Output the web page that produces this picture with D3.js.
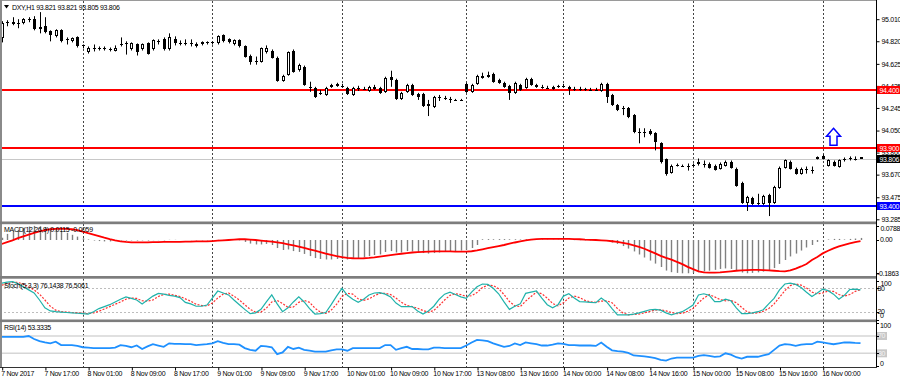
<!DOCTYPE html>
<html><head><meta charset="utf-8">
<script src="https://cdn.jsdelivr.net/npm/d3@7"></script>
<style>
body{margin:0;background:#fff}
svg{display:block}
text{font-family:"Liberation Sans",Arial,sans-serif;font-size:7px;letter-spacing:-0.3px;fill:#000}
</style>
</head><body><svg id="c" width="900" height="381"></svg>
<script>
const openP=[94.845,94.975,94.984,94.966,94.975,95.001,95.010,94.923,94.949,94.906,94.862,94.914,94.827,94.819,94.853,94.784,94.723,94.766,94.757,94.758,94.749,94.740,94.784,94.792,94.749,94.792,94.749,94.801,94.749,94.819,94.836,94.749,94.836,94.801,94.802,94.801,94.792,94.792,94.810,94.810,94.801,94.871,94.836,94.792,94.827,94.775,94.697,94.645,94.645,94.723,94.740,94.679,94.479,94.531,94.732,94.575,94.601,94.427,94.418,94.375,94.357,94.427,94.453,94.436,94.418,94.357,94.418,94.410,94.392,94.427,94.418,94.384,94.514,94.488,94.323,94.384,94.444,94.366,94.366,94.262,94.253,94.340,94.331,94.323,94.314,94.314,94.453,94.384,94.453,94.523,94.514,94.540,94.488,94.462,94.436,94.375,94.444,94.418,94.497,94.444,94.427,94.418,94.410,94.427,94.436,94.427,94.410,94.410,94.410,94.401,94.401,94.392,94.453,94.357,94.270,94.244,94.244,94.183,94.036,94.036,94.044,94.027,93.940,93.801,93.688,93.748,93.748,93.740,93.748,93.775,93.766,93.766,93.748,93.722,93.748,93.783,93.722,93.601,93.427,93.470,93.427,93.418,93.496,93.427,93.557,93.731,93.783,93.722,93.679,93.714,93.714,93.809,93.835,93.748,93.783,93.740,93.792,93.809,93.809,93.821];
const highP=[94.993,95.001,95.027,95.010,95.019,95.027,95.036,95.071,95.027,94.914,94.923,94.923,94.853,94.853,94.862,94.792,94.775,94.792,94.775,94.775,94.766,94.784,94.853,94.819,94.810,94.801,94.801,94.810,94.836,94.836,94.853,94.888,94.862,94.827,94.836,94.836,94.810,94.819,94.819,94.819,94.871,94.879,94.845,94.836,94.836,94.784,94.705,94.688,94.766,94.784,94.749,94.688,94.531,94.732,94.749,94.627,94.610,94.471,94.427,94.401,94.427,94.453,94.462,94.453,94.427,94.427,94.436,94.427,94.436,94.444,94.427,94.514,94.566,94.497,94.384,94.453,94.453,94.375,94.375,94.314,94.349,94.357,94.349,94.340,94.323,94.323,94.462,94.453,94.531,94.549,94.558,94.549,94.497,94.471,94.444,94.471,94.453,94.505,94.505,94.453,94.444,94.436,94.436,94.444,94.453,94.436,94.427,94.427,94.418,94.418,94.418,94.462,94.462,94.366,94.279,94.262,94.253,94.192,94.070,94.070,94.062,94.036,93.949,93.809,93.757,93.766,93.757,93.766,93.766,93.809,93.792,93.775,93.757,93.775,93.792,93.792,93.731,93.609,93.487,93.479,93.505,93.496,93.505,93.574,93.740,93.801,93.792,93.731,93.731,93.740,93.740,93.827,93.844,93.801,93.792,93.801,93.818,93.827,93.827,93.821];
const lowP=[94.810,94.949,94.958,94.932,94.966,94.984,94.914,94.888,94.888,94.819,94.853,94.810,94.792,94.810,94.766,94.758,94.714,94.732,94.740,94.740,94.732,94.732,94.775,94.705,94.740,94.697,94.740,94.705,94.740,94.792,94.740,94.740,94.784,94.784,94.784,94.775,94.766,94.784,94.792,94.792,94.792,94.810,94.801,94.784,94.766,94.679,94.618,94.618,94.636,94.714,94.671,94.471,94.471,94.523,94.549,94.558,94.436,94.384,94.331,94.357,94.349,94.418,94.427,94.418,94.357,94.349,94.392,94.401,94.384,94.401,94.366,94.375,94.427,94.314,94.314,94.375,94.349,94.314,94.253,94.175,94.244,94.305,94.314,94.288,94.305,94.305,94.375,94.375,94.444,94.497,94.505,94.462,94.453,94.418,94.314,94.366,94.392,94.410,94.436,94.418,94.410,94.410,94.401,94.418,94.418,94.357,94.392,94.392,94.392,94.392,94.392,94.384,94.288,94.262,94.218,94.183,94.157,94.027,93.940,93.992,94.009,93.879,93.766,93.661,93.679,93.740,93.740,93.705,93.731,93.748,93.731,93.722,93.705,93.714,93.740,93.722,93.566,93.418,93.357,93.409,93.409,93.409,93.313,93.418,93.548,93.722,93.714,93.670,93.670,93.679,93.679,93.801,93.801,93.740,93.740,93.731,93.783,93.792,93.792,93.805];
const closeP=[94.975,94.984,94.966,94.975,95.010,95.010,94.923,94.940,94.897,94.871,94.914,94.819,94.836,94.845,94.775,94.775,94.766,94.749,94.758,94.749,94.750,94.766,94.792,94.801,94.801,94.723,94.792,94.714,94.827,94.810,94.749,94.853,94.801,94.802,94.801,94.800,94.775,94.810,94.801,94.811,94.862,94.819,94.810,94.827,94.775,94.688,94.645,94.646,94.758,94.766,94.679,94.479,94.523,94.723,94.558,94.618,94.444,94.418,94.340,94.376,94.418,94.444,94.436,94.437,94.366,94.418,94.419,94.409,94.427,94.410,94.375,94.505,94.488,94.323,94.375,94.444,94.357,94.340,94.262,94.279,94.340,94.341,94.330,94.322,94.315,94.313,94.384,94.444,94.523,94.505,94.531,94.471,94.462,94.427,94.375,94.462,94.401,94.497,94.444,94.427,94.426,94.417,94.427,94.436,94.427,94.410,94.409,94.411,94.409,94.400,94.402,94.453,94.340,94.270,94.227,94.236,94.166,94.036,94.027,94.035,94.018,93.949,93.775,93.679,93.748,93.757,93.747,93.741,93.749,93.766,93.765,93.731,93.714,93.766,93.783,93.731,93.574,93.427,93.479,93.418,93.418,93.487,93.427,93.566,93.731,93.792,93.722,93.679,93.722,93.715,93.713,93.818,93.809,93.792,93.748,93.792,93.809,93.810,93.808,93.806];
const macdMain=[0.013,0.034,0.048,0.058,0.068,0.075,0.0788,0.077,0.072,0.068,0.060,0.050,0.040,0.029,0.019,0.010,0.003,-0.003,-0.006,-0.008,-0.008,-0.006,-0.003,-0.003,-0.002,-0.003,-0.002,-0.003,-0.001,-0.001,-0.002,0.001,0.001,0.000,0.000,-0.001,-0.002,-0.002,-0.002,-0.002,0.001,0.001,0.000,0.000,-0.002,-0.011,-0.020,-0.025,-0.025,-0.022,-0.028,-0.045,-0.056,-0.053,-0.062,-0.067,-0.078,-0.090,-0.101,-0.106,-0.109,-0.109,-0.106,-0.106,-0.109,-0.106,-0.101,-0.095,-0.090,-0.084,-0.081,-0.067,-0.062,-0.070,-0.070,-0.062,-0.064,-0.067,-0.073,-0.076,-0.073,-0.070,-0.067,-0.064,-0.062,-0.059,-0.055,-0.045,-0.028,0.004,0.005,0.004,0.005,0.005,0.004,0.004,0.003,0.004,0.005,0.004,0.003,0.002,0.002,0.002,0.001,0.000,-0.001,-0.001,-0.002,-0.002,-0.003,-0.003,-0.006,-0.014,-0.022,-0.034,-0.048,-0.064,-0.081,-0.098,-0.115,-0.132,-0.151,-0.171,-0.180,-0.184,-0.1863,-0.186,-0.183,-0.180,-0.176,-0.172,-0.167,-0.162,-0.159,-0.162,-0.172,-0.182,-0.186,-0.184,-0.181,-0.177,-0.170,-0.157,-0.134,-0.112,-0.092,-0.076,-0.059,-0.042,-0.028,-0.011,-0.003,0.003,0.006,0.006,0.003,0.006,0.008,0.0115];
const macdSignal=[-0.022,-0.012,-0.002,0.010,0.020,0.030,0.040,0.048,0.055,0.060,0.062,0.063,0.062,0.060,0.055,0.047,0.038,0.030,0.022,0.013,0.005,-0.002,-0.008,-0.011,-0.013,-0.013,-0.013,-0.013,-0.012,-0.012,-0.011,-0.011,-0.010,-0.010,-0.009,-0.009,-0.008,-0.008,-0.008,-0.006,-0.004,-0.002,0.000,0.002,0.004,0.004,0.002,0.000,-0.003,-0.006,-0.009,-0.013,-0.018,-0.024,-0.030,-0.037,-0.044,-0.052,-0.060,-0.068,-0.076,-0.083,-0.090,-0.096,-0.100,-0.102,-0.103,-0.102,-0.100,-0.097,-0.093,-0.089,-0.085,-0.081,-0.077,-0.073,-0.070,-0.068,-0.066,-0.065,-0.064,-0.064,-0.064,-0.064,-0.065,-0.065,-0.065,-0.063,-0.058,-0.052,-0.046,-0.040,-0.034,-0.028,-0.021,-0.014,-0.008,-0.002,0.002,0.005,0.006,0.006,0.006,0.006,0.006,0.006,0.005,0.004,0.002,0.001,0.000,-0.002,-0.004,-0.007,-0.011,-0.016,-0.022,-0.030,-0.039,-0.049,-0.062,-0.075,-0.089,-0.100,-0.110,-0.122,-0.135,-0.150,-0.163,-0.175,-0.181,-0.182,-0.182,-0.181,-0.178,-0.175,-0.172,-0.170,-0.168,-0.167,-0.167,-0.168,-0.170,-0.172,-0.174,-0.175,-0.170,-0.160,-0.148,-0.134,-0.112,-0.095,-0.075,-0.060,-0.047,-0.036,-0.027,-0.019,-0.012,-0.0059];
const stochMain=[93,96,97,92,84,76,68,50,30,22,20,19,18,17,16,15,14,20,28,33,38,45,52,58,54,50,40,50,60,67,65,62,60,56,44,40,34,34,37,55,73,68,63,50,38,26,15,17,26,45,63,40,20,30,45,58,45,28,14,15,18,38,60,80,62,52,44,52,63,68,69,65,58,42,33,33,33,22,14,22,34,52,65,70,64,58,54,70,84,91,90,80,66,45,26,34,40,67,70,73,55,38,30,38,60,66,55,46,45,44,43,55,45,28,12,12,12,14,17,21,25,26,24,17,12,16,20,28,37,63,66,62,46,46,52,48,30,15,15,17,20,25,40,54,76,91,93,90,82,70,59,68,78,74,65,52,62,77,78,76.1438];
const stochSignal=[88,92,95,95,91,84,76,65,50,34,24,20,19,18,17,16,15,17,21,27,33,39,45,52,55,54,48,47,50,59,64,65,62,59,53,47,39,36,35,42,55,65,68,60,50,38,26,19,19,29,45,49,41,31,32,44,49,44,29,19,16,24,39,59,67,65,53,49,53,61,67,67,64,55,44,36,33,29,23,19,23,36,50,62,66,64,59,61,69,82,88,87,79,64,46,35,33,47,59,70,66,55,41,35,43,55,60,56,49,45,44,47,48,43,28,17,12,13,14,17,21,24,25,22,18,15,16,21,28,43,55,64,58,51,48,49,43,31,20,16,17,21,28,40,57,74,87,91,88,81,70,66,68,73,72,64,60,64,72,76.5061];
const rsiVals=[68,68,68,68,68,70,63,58,55,53,57,49,49,49,47,44,43,42,42,42,42,43,49,47,44,48,40,46,51,48,45,53,52,52,51,51,49,50,51,53,58,54,51,51,50,42,38,36,47,46,44,28,32,45,40,43,38,36,34,34,34,37,39,39,36,42,42,42,42,42,42,49,49,38,42,45,40,40,39,39,43,43,42,42,42,42,48,55,61,60,58,53,49,45,47,53,49,55,53,51,48,48,50,53,52,49,49,48,48,48,47,55,45,37,35,34,31,25,24,23,21,19,15,13,18,20,20,20,20,24,26,24,22,23,30,27,21,18,22,22,22,25,28,38,48,51,50,47,50,51,51,57,55,53,51,53,55,55,54,53.3335];
const timeTickIdx=[0,8,16,24,32,40,48,56,64,72,80,88,96,104,112,120,128,136,144,152];
const timeLabels=["7 Nov 2017","7 Nov 17:00","8 Nov 01:00","8 Nov 09:00","8 Nov 17:00","9 Nov 01:00","9 Nov 09:00","9 Nov 17:00","10 Nov 01:00","10 Nov 09:00","10 Nov 17:00","13 Nov 08:00","13 Nov 16:00","14 Nov 00:00","14 Nov 08:00","14 Nov 16:00","15 Nov 00:00","15 Nov 08:00","15 Nov 16:00","16 Nov 00:00"];
const dayGridIdx=[15,39,63,86,104,128,152];
const priceTicks=[95.010,94.820,94.625,94.435,94.245,94.050,93.860,93.670,93.475,93.285];
const levelPrices=[94.400,93.900,93.400];
const levelColors=["#ff0000","#ff0000","#0000ff"];
const bidPrice=93.806;
const arrowBar=154, arrowPrice=94.000;
const macdTicks=[0.0788,0.00,-0.1863];
const stochTicks=[100,80,20,0];
const rsiTicks=[100,70,30,0];

const svg=d3.select("#c");
const W=876;
const x=d3.scaleLinear().domain([0,152]).range([1.7,822.7]);
const yMain=d3.scaleLinear().domain([93.285,95.010]).range([219.3,19.2]);
const yMacd=d3.scaleLinear().domain([-0.1863,0.0788]).range([273.3,225.9]);
const yStoch=d3.scaleLinear().domain([0,100]).range([319.5,280.5]);
const yRsi=d3.scaleLinear().domain([0,100]).range([366.3,323]);
const idx=d3.range(openP.length);
const px=i=>Math.round(x(i));

function clip(id,y0,y1){svg.append("clipPath").attr("id",id).append("rect").attr("x",2).attr("y",y0).attr("width",W-2).attr("height",y1-y0);}
clip("cm",1,221.5);clip("cd",224,276);clip("cs",278.7,319.5);clip("cr",322,367);

// day grid lines
const panels=[[1,221.5],[224,276],[278.7,319.5],[322,367]];
panels.forEach(p=>{
  svg.append("g").selectAll("line").data(dayGridIdx).join("line")
   .attr("x1",d=>px(d)+0.5).attr("x2",d=>px(d)+0.5).attr("y1",p[0]).attr("y2",p[1])
   .attr("stroke","#444").attr("stroke-dasharray","2,2").attr("stroke-width",1);
});

// main panel
const gm=svg.append("g").attr("clip-path","url(#cm)");
gm.append("line").attr("x1",0).attr("x2",W).attr("y1",Math.round(yMain(bidPrice))+0.5).attr("y2",Math.round(yMain(bidPrice))+0.5).attr("stroke","#c8c8c8");
levelPrices.forEach((p,k)=>{
  const yy=Math.round(yMain(p));
  gm.append("line").attr("x1",0).attr("x2",W).attr("y1",yy).attr("y2",yy).attr("stroke",levelColors[k]).attr("stroke-width",2);
});
gm.append("g").selectAll("line").data(idx).join("line")
  .attr("x1",i=>px(i)+0.5).attr("x2",i=>px(i)+0.5)
  .attr("y1",i=>yMain(highP[i])).attr("y2",i=>yMain(lowP[i]))
  .attr("stroke","#000").attr("stroke-width",1);
gm.append("g").selectAll("rect").data(idx).join("rect")
  .each(function(i){
    const o=yMain(openP[i]),c=yMain(closeP[i]);
    const top=Math.round(Math.min(o,c)),bot=Math.round(Math.max(o,c));
    const bull=closeP[i]>=openP[i];
    const s=d3.select(this);
    if(bull){
      s.attr("x",px(i)-0.5).attr("y",top+0.5).attr("width",2).attr("height",Math.max(0,bot-top-1)).attr("fill","#fff").attr("stroke","#000").attr("stroke-width",1);
      if(bot-top<2){s.attr("y",top).attr("height",1).attr("x",px(i)-1).attr("width",3).attr("stroke",null).attr("fill","#000");}
    } else {
      s.attr("x",px(i)-1).attr("y",top).attr("width",3).attr("height",Math.max(1,bot-top)).attr("fill","#000");
    }
  });
// arrow
const ax=x(arrowBar), ay=yMain(arrowPrice);
gm.append("path").attr("d",`M${ax},${ay-8} L${ax+7},${ay} L${ax+3.5},${ay} L${ax+3.5},${ay+9} L${ax-3.5},${ay+9} L${ax-3.5},${ay} L${ax-7},${ay} Z`)
  .attr("fill","#fff").attr("stroke","#0000ff").attr("stroke-width",1.5);

// MACD panel
const gd=svg.append("g").attr("clip-path","url(#cd)");
gd.append("g").selectAll("line").data(idx).join("line")
  .attr("x1",i=>px(i)+0.5).attr("x2",i=>px(i)+0.5)
  .attr("y1",yMacd(0)).attr("y2",i=>yMacd(macdMain[i]))
  .attr("stroke","#808080").attr("stroke-width",1.4);
gd.append("path").datum(idx).attr("fill","none").attr("stroke","#ff0000").attr("stroke-width",1.8)
  .attr("d",d3.line().x(i=>x(i)).y(i=>yMacd(macdSignal[i])));

// Stoch panel
const gs=svg.append("g").attr("clip-path","url(#cs)");
[80,20].forEach(v=>gs.append("line").attr("x1",0).attr("x2",W).attr("y1",Math.round(yStoch(v))+0.5).attr("y2",Math.round(yStoch(v))+0.5).attr("stroke","#bdbdbd").attr("stroke-dasharray","2,2"));
gs.append("path").datum(idx).attr("fill","none").attr("stroke","#ff3030").attr("stroke-width",1.2).attr("stroke-dasharray","2,1.5")
  .attr("d",d3.line().x(i=>x(i)).y(i=>yStoch(stochSignal[i])));
gs.append("path").datum(idx).attr("fill","none").attr("stroke","#20b2aa").attr("stroke-width",1.2)
  .attr("d",d3.line().x(i=>x(i)).y(i=>yStoch(stochMain[i])));

// RSI panel
const gr=svg.append("g").attr("clip-path","url(#cr)");
[70,30].forEach(v=>gr.append("line").attr("x1",0).attr("x2",W).attr("y1",yRsi(v)).attr("y2",yRsi(v)).attr("stroke","#d6d6d6").attr("stroke-width",1.5));
gr.append("path").datum(idx).attr("fill","none").attr("stroke","#1e90ff").attr("stroke-width",1.8)
  .attr("d",d3.line().x(i=>x(i)).y(i=>yRsi(rsiVals[i])));

// frames & separators
svg.append("rect").attr("x",0).attr("y",0).attr("width",W).attr("height",1).attr("fill","#9a9a9a");
svg.append("rect").attr("x",0).attr("y",0).attr("width",2).attr("height",367).attr("fill","#8a8a8a");
[[221.5,2.7],[276,2.7],[319.5,2.6]].forEach(s=>svg.append("rect").attr("x",0).attr("y",s[0]).attr("width",W).attr("height",s[1]).attr("fill","#7d7d7d"));
svg.append("line").attr("x1",W+0.5).attr("x2",W+0.5).attr("y1",0).attr("y2",367).attr("stroke","#000");
svg.append("line").attr("x1",0).attr("x2",W+1).attr("y1",367.5).attr("y2",367.5).attr("stroke","#333");

// right price axis
const axR=svg.append("g").attr("transform",`translate(${W+0.5},0)`)
  .call(d3.axisRight(yMain).tickValues(priceTicks).tickSize(3).tickPadding(2).tickFormat(d3.format(".3f")));
axR.select(".domain").remove();
axR.selectAll("text").attr("font-size",null).attr("font-family",null);
function box(p,col,txt,tcol){
  const yy=Math.round(yMain(p));
  svg.append("rect").attr("x",W+1).attr("y",yy-4).attr("width",24).attr("height",8).attr("fill",col);
  svg.append("text").attr("x",W+3.5).attr("y",yy+2.6).text(txt).style("fill",tcol);
}
box(levelPrices[0],levelColors[0],"94.400","#fff");
box(levelPrices[1],levelColors[1],"93.900","#fff");
box(bidPrice,"#000","93.806","#fff");
box(levelPrices[2],levelColors[2],"93.400","#fff");

// indicator axes
function sideLabels(vals,scale,offs,xs,fmt){
  vals.forEach((v,k)=>{
    const yy=scale(v)+offs[k];
    svg.append("line").attr("x1",W).attr("x2",W+3).attr("y1",Math.round(scale(v))+0.5).attr("y2",Math.round(scale(v))+0.5).attr("stroke","#000");
    svg.append("text").attr("x",W+xs[k]).attr("y",yy+2.5).text(fmt(v)).attr("class","lab"+v);
  });
}
sideLabels(macdTicks,yMacd,[2.5,0,0.5],[4.5,4,1],v=>v===0?"0.00":String(v));
sideLabels(stochTicks,yStoch,[3,0.5,-0.5,-4],[4.5,1.5,1.5,4],v=>String(v));
[70,30].forEach(v=>svg.append("rect").attr("x",W+1).attr("y",yRsi(v)-4).attr("width",10).attr("height",8).attr("fill","#c8c8c8"));
sideLabels(rsiTicks,yRsi,[2.8,0,0,-3],[4,2,2,4],v=>String(v));
svg.selectAll("text").filter(function(){return (this.textContent==="70"||this.textContent==="30");}).style("fill","#f4f4f4");

// time axis
const axB=svg.append("g").attr("transform","translate(0,367.5)")
  .call(d3.axisBottom(x).tickValues(timeTickIdx).tickSize(3).tickPadding(1).tickFormat((d,k)=>timeLabels[k]));
axB.select(".domain").remove();
axB.selectAll(".tick line").attr("transform","translate(0.5,0)");
axB.selectAll("text").attr("font-size",null).attr("font-family",null).attr("text-anchor","start").attr("dx",-1);

// header and indicator titles
svg.append("path").attr("d","M4,5 L9,5 L6.5,8.5 Z").attr("fill","#000");
svg.append("text").attr("x",12).attr("y",9.5).text("DXY,H1  93.821 93.821 93.805 93.806");
svg.append("text").attr("x",4).attr("y",231.8).text("MACD(12,26,9) 0.0115 -0.0059");
svg.append("text").attr("x",4).attr("y",288).text("Stoch(5,3,3) 76.1438 76.5061");
svg.append("text").attr("x",4).attr("y",330).text("RSI(14) 53.3335");
</script>
</body></html>
